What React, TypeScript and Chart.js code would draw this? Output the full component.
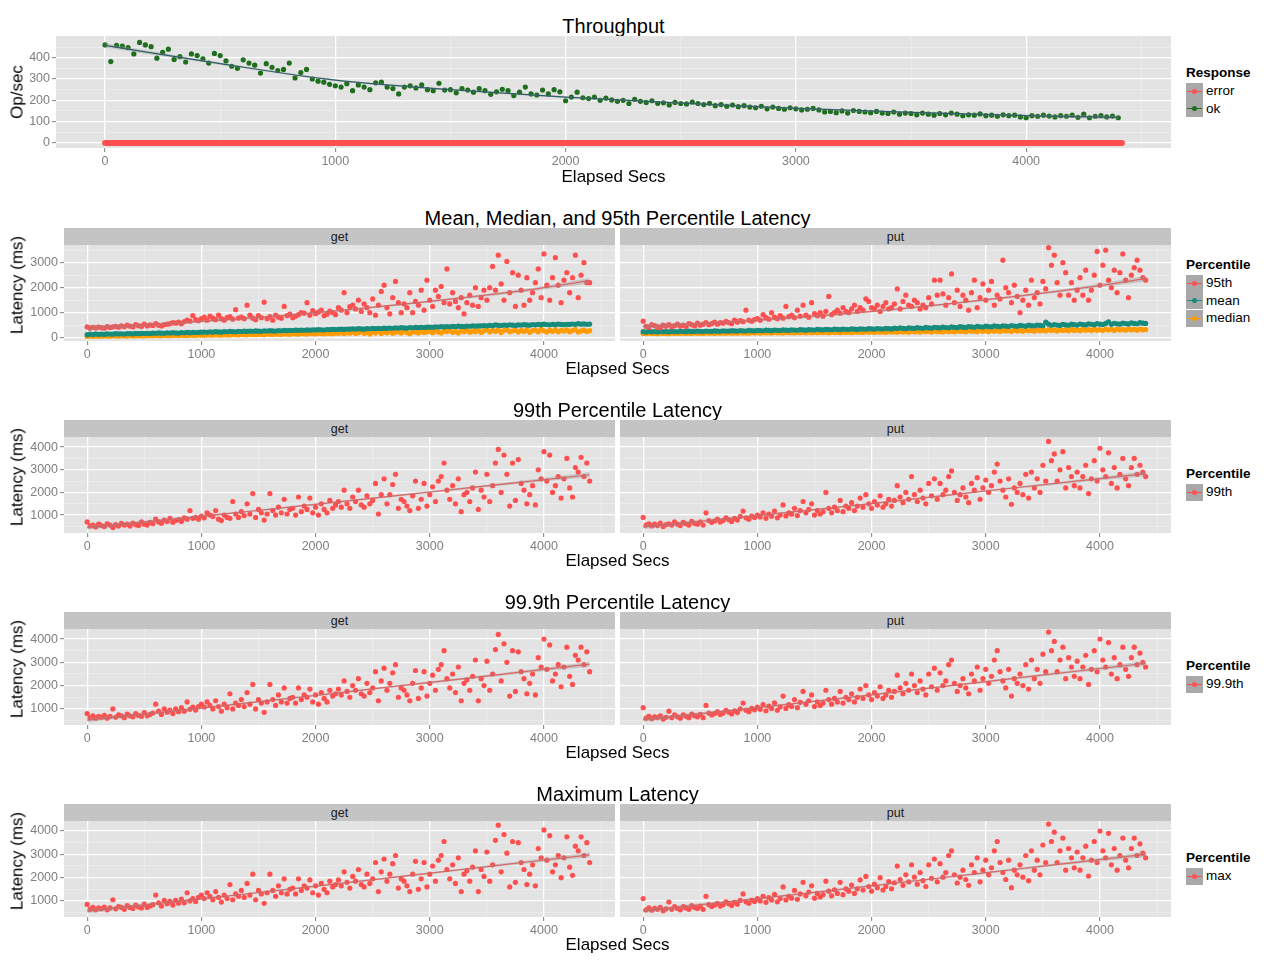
import React, { useEffect, useRef } from "react";
import { Chart, registerables } from "chart.js";
Chart.register(...registerables);

const FONT = '"Liberation Sans", Arial, Helvetica, sans-serif';
const PANEL_BG = "#E3E3E3";
const STRIP_BG = "#C4C4C4";
const GRID_MAJOR = "#FFFFFF";
const GRID_MINOR = "#F0F0F0";
const TICK_COLOR = "#7F7F7F";
const KEY_BG = "#A8A8A8";
const RED = "#FF4F4F";
const TEAL = "#178C7C";
const ORANGE = "#FF9A00";
const GREEN = "#1E6E1E";
const FIT_RED = "rgba(222,92,92,0.9)";
const FIT_DARK = "#2D5F66";
const BAND = "rgba(150,150,150,0.4)";

// elapsed seconds
const TIME = [
  0, 25, 50, 75, 100, 125, 150, 175, 200, 225, 250, 275, 300, 325, 350, 375, 400, 425, 450, 475, 500, 525, 550, 575,
  600, 625, 650, 675, 700, 725, 750, 775, 800, 825, 850, 875, 900, 925, 950, 975,
  1000, 1025, 1050, 1075, 1100, 1125, 1150, 1175, 1200, 1225, 1250, 1275, 1300, 1325, 1350, 1375,
  1400, 1425, 1450, 1475, 1500, 1525, 1550, 1575, 1600, 1625, 1650, 1675, 1700, 1725, 1750, 1775,
  1800, 1825, 1850, 1875, 1900, 1925, 1950, 1975, 2000, 2025, 2050, 2075, 2100, 2125, 2150, 2175,
  2200, 2225, 2250, 2275, 2300, 2325, 2350, 2375, 2400, 2425, 2450, 2475, 2500, 2525, 2550, 2575,
  2600, 2625, 2650, 2675, 2700, 2725, 2750, 2775, 2800, 2825, 2850, 2875, 2900, 2925, 2950, 2975,
  3000, 3025, 3050, 3075, 3100, 3125, 3150, 3175, 3200, 3225, 3250, 3275, 3300, 3325, 3350, 3375,
  3400, 3425, 3450, 3475, 3500, 3525, 3550, 3575, 3600, 3625, 3650, 3675, 3700, 3725, 3750, 3775,
  3800, 3825, 3850, 3875, 3900, 3925, 3950, 3975, 4000, 4025, 4050, 4075, 4100, 4125, 4150, 4175,
  4200, 4225, 4250, 4275, 4300, 4325, 4350, 4375, 4400,
];

const X_MAJOR = [0, 1000, 2000, 3000, 4000];
const X_MINOR = [500, 1500, 2500, 3500, 4500];
const X_LABELS = ["0", "1000", "2000", "3000", "4000"];

const OPS_Y_MAJOR = [0, 100, 200, 300, 400];
const OPS_Y_MINOR = [50, 150, 250, 350, 450];
const OPS_Y_LABELS = ["0", "100", "200", "300", "400"];
const LAT_Y_MAJOR_A = [0, 1000, 2000, 3000];
const LAT_Y_MINOR_A = [500, 1500, 2500, 3500];
const LAT_Y_LABELS_A = ["0", "1000", "2000", "3000"];
const LAT_Y_MAJOR_B = [1000, 2000, 3000, 4000];
const LAT_Y_MINOR_B = [500, 1500, 2500, 3500];
const LAT_Y_LABELS_B = ["1000", "2000", "3000", "4000"];

// Throughput (op/sec)
const OPS_OK = [
  460, 382, 458, 455, 448, 418, 472, 460, 452, 398, 425, 440, 392, 405, 380, 418, 410, 395, 375, 420, 410, 385, 360, 350,
  390, 375, 365, 328, 372, 355, 340, 345, 375, 305, 330, 345, 300, 290, 285, 275,
  268, 262, 278, 245, 272, 262, 250, 282, 285, 262, 255, 230, 262, 268, 258, 272,
  250, 245, 280, 248, 250, 235, 255, 248, 238, 255, 245, 228, 240, 252, 245, 222,
  238, 262, 230, 225, 248, 230, 250, 240, 198, 215, 238, 212, 208, 215, 200, 210,
  202, 195, 200, 185, 205, 195, 190, 198, 186, 188, 178, 190, 185, 183, 192, 185,
  180, 186, 175, 180, 172, 178, 170, 175, 168, 165, 172, 160, 168, 162, 158, 165,
  160, 155, 158, 162, 155, 145, 148, 142, 150, 140, 152, 148, 145, 142, 148, 140,
  138, 145, 135, 140, 138, 132, 140, 135, 130, 138, 132, 140, 135, 128, 132, 130,
  136, 128, 130, 125, 132, 128, 130, 122, 118, 128, 125, 130, 126, 122, 128, 125,
  130, 120, 135, 118, 125, 128, 122, 126, 118,
];
const OPS_ERROR_TIME = [0, 1000, 2000, 3000, 4000, 4416];
const OPS_ERROR = [0, 0, 0, 0, 0, 0];
const OPS_FIT_T = [0, 500, 1000, 1500, 2000, 2500, 3000, 3500, 4000, 4400];
const OPS_FIT = [458, 372, 295, 250, 215, 187, 162, 143, 128, 120];
const OPS_FIT_SE = [10, 5, 4, 4, 4, 4, 4, 4, 5, 8];

// Row 2: 95th / mean / median
const P95_GET = [
  430, 380, 410, 390, 420, 400, 380, 440, 410, 430, 450, 420, 470, 440, 500, 460, 430, 520, 480, 450, 540, 470, 510, 490,
  560, 500, 470, 520, 540, 560, 600, 580, 620, 560, 640, 700, 660, 880, 720, 680,
  760, 820, 700, 860, 780, 720, 900, 760, 700, 800, 840, 740, 1120, 780, 820, 760,
  1300, 900, 780, 720, 880, 800, 1420, 760, 840, 700, 900, 820, 780, 1250, 880, 940,
  800, 860, 920, 1000, 980, 1400, 900, 1080, 960, 1020, 1100, 880, 940, 1060, 1000, 920,
  1200, 1100, 1800, 1000, 1240, 1300, 1150, 1500, 1050, 1350, 1200, 1000, 1550, 900, 1300, 1850,
  2100, 1200, 950, 1600, 2250, 1400, 1000, 1350, 1200, 1800, 1000, 1450, 1300, 1900, 1100, 2300,
  1500, 1250, 1900, 1650, 2050, 1400, 2750, 1350, 1800, 1450, 1200, 1600, 950, 1400, 1700, 1300,
  2000, 1250, 1600, 1900, 1500, 2000, 2850, 1900, 3300, 2150, 1500, 3050, 1800, 2600, 1250, 2500,
  1900, 1300, 2400, 1500, 1800, 2200, 2750, 1600, 3350, 2100, 1500, 2400, 3200, 2100, 1400, 2300,
  2600, 1800, 2400, 3300, 1600, 2500, 3000, 2200, 2200,
];
const MEAN_GET = [
  120, 140, 125, 150, 135, 145, 130, 155, 148, 140, 160, 150, 158, 145, 165, 160, 150, 172, 162, 170, 168, 175, 165, 180,
  178, 190, 182, 175, 195, 188, 200, 192, 185, 205, 198, 210, 200, 215, 208, 212,
  220, 228, 215, 235, 225, 240, 230, 222, 245, 238, 250, 242, 235, 255, 248, 260,
  252, 265, 258, 270, 262, 255, 275, 268, 282, 272, 265, 285, 278, 290, 282, 295,
  288, 300, 292, 305, 298, 312, 302, 318, 310, 322, 315, 308, 328, 320, 332, 325,
  335, 342, 330, 348, 340, 355, 345, 360, 350, 342, 365, 358, 370, 362, 375, 368,
  380, 372, 388, 378, 395, 385, 400, 390, 382, 405, 398, 412, 402, 418, 408, 420,
  425, 415, 435, 428, 440, 432, 448, 438, 455, 445, 460, 450, 442, 465, 458, 470,
  462, 478, 470, 485, 475, 490, 480, 510, 495, 488, 505, 498, 515, 502, 492, 510,
  505, 520, 512, 500, 525, 515, 530, 520, 540, 528, 518, 535, 525, 545, 532, 522,
  538, 530, 548, 535, 560, 542, 550, 538, 545,
];
const MEDIAN_GET = [
  50, 65, 55, 70, 60, 58, 72, 65, 62, 75, 68, 60, 78, 70, 66, 80, 72, 68, 82, 75, 70, 85, 78, 74,
  88, 80, 76, 92, 85, 80, 95, 88, 84, 100, 92, 86, 105, 95, 90, 108,
  100, 95, 112, 105, 98, 118, 108, 102, 122, 112, 106, 128, 118, 110, 132, 122,
  115, 138, 125, 118, 142, 130, 122, 148, 135, 128, 152, 140, 132, 158, 145, 136,
  162, 150, 140, 168, 155, 145, 175, 160, 150, 180, 165, 155, 185, 170, 158, 190,
  175, 200, 160, 210, 182, 230, 168, 195, 240, 175, 205, 150, 220, 185, 250, 170,
  230, 195, 260, 175, 215, 240, 185, 270, 205, 160, 250, 220, 190, 275, 210, 240,
  260, 200, 285, 230, 190, 270, 245, 300, 215, 255, 190, 280, 235, 305, 220, 265,
  240, 300, 210, 275, 320, 230, 290, 250, 310, 205, 285, 330, 240, 275, 300, 225,
  290, 250, 320, 215, 280, 305, 240, 340, 270, 225, 300, 255, 320, 235, 290, 265,
  310, 240, 285, 330, 225, 270, 300, 250, 280,
];
const P95_PUT = [
  660, 450, 420, 520, 480, 430, 400, 500, 460, 520, 440, 480, 540, 460, 500, 450, 560, 520, 470, 580, 500, 540, 600, 520,
  560, 620, 540, 600, 580, 650, 600, 560, 700, 620, 680, 640, 1100, 700, 660, 720,
  760, 700, 920, 800, 740, 1000, 820, 760, 880, 780, 1250, 840, 900, 800, 1100, 860,
  1300, 900, 820, 1400, 960, 880, 1000, 860, 1050, 1650, 920, 1000, 1100, 980, 1200, 1050,
  1000, 1150, 1300, 1050, 1200, 1100, 1550, 1450, 1200, 1150, 1300, 1050, 1250, 1400, 1150, 1200,
  1350, 1950, 1150, 1450, 1700, 1300, 1250, 1500, 1400, 1150, 1300, 1200, 1600, 1350, 2300, 1700,
  2300, 1750, 1300, 1600, 2550, 1400, 1900, 1250, 1700, 1500, 1100, 1800, 2300, 1200, 1600, 2150,
  1500, 1900, 2250, 1300, 1700, 1550, 3100, 2000, 1800, 1400, 2100, 1650, 1000, 1500, 1900, 1300,
  2300, 1600, 1800, 1350, 2250, 1950, 3600, 2900, 3300, 2200, 1700, 3000, 2600, 1700, 2200, 1500,
  1900, 2400, 1700, 2700, 1500, 1900, 2500, 3450, 2100, 2900, 3500, 2300, 2000, 2700, 1800, 2600,
  3350, 2300, 1600, 2500, 2800, 3100, 2700, 2400, 2300,
];
const MEAN_PUT = [
  240, 225, 250, 235, 245, 230, 255, 240, 248, 232, 252, 245, 238, 258, 248, 242, 262, 250, 245, 265, 255, 248, 268, 258,
  252, 272, 262, 256, 276, 266, 260, 280, 270, 264, 285, 275, 268, 290, 280, 272,
  295, 285, 278, 300, 290, 282, 305, 295, 288, 310, 300, 292, 315, 305, 298, 320,
  310, 302, 325, 315, 308, 330, 320, 312, 335, 325, 318, 340, 330, 322, 345, 335,
  328, 350, 340, 332, 355, 345, 338, 362, 350, 342, 368, 356, 348, 375, 362, 352,
  380, 368, 390, 375, 362, 395, 382, 370, 402, 388, 376, 410, 395, 382, 418, 400,
  390, 425, 408, 395, 432, 415, 402, 440, 422, 410, 448, 430, 418, 455, 438, 425,
  462, 445, 432, 470, 452, 440, 478, 460, 448, 485, 468, 455, 492, 475, 462, 500,
  482, 470, 508, 490, 478, 620, 540, 498, 525, 505, 490, 532, 512, 498, 540, 520,
  505, 548, 528, 512, 555, 535, 520, 562, 542, 528, 570, 630, 535, 578, 558, 542,
  585, 565, 550, 592, 572, 558, 600, 580, 570,
];
const MEDIAN_PUT = [
  170, 160, 178, 165, 172, 158, 180, 168, 175, 162, 182, 170, 178, 165, 185, 172, 180, 168, 188, 175, 182, 170, 190, 178,
  185, 172, 192, 180, 188, 175, 195, 182, 190, 178, 198, 185, 192, 180, 200, 188,
  195, 182, 205, 190, 198, 185, 210, 195, 202, 188, 212, 198, 205, 192, 215, 200,
  208, 195, 218, 202, 210, 198, 222, 205, 215, 200, 225, 210, 218, 202, 228, 212,
  220, 205, 232, 215, 225, 208, 238, 218, 228, 212, 240, 222, 232, 215, 245, 225,
  235, 218, 250, 228, 240, 215, 258, 232, 245, 220, 262, 238, 250, 225, 268, 240,
  255, 230, 275, 245, 260, 235, 280, 250, 265, 238, 285, 255, 270, 242, 290, 258,
  275, 245, 295, 262, 280, 250, 300, 268, 285, 255, 305, 272, 290, 258, 310, 275,
  295, 262, 315, 280, 300, 268, 320, 285, 305, 272, 325, 290, 310, 275, 330, 292,
  315, 280, 335, 298, 320, 285, 340, 302, 325, 288, 345, 305, 330, 292, 348, 310,
  335, 298, 350, 312, 338, 300, 345, 315, 325,
];

// Row 3: 99th
const P99_GET = [
  700, 520, 560, 480, 600, 540, 500, 620, 560, 450, 580, 520, 640, 560, 600, 520, 650, 580, 540, 700, 600, 560, 680, 620,
  820, 700, 640, 780, 720, 860, 680, 760, 800, 720, 880, 820, 1200, 860, 900, 820,
  960, 880, 1100, 1000, 940, 1200, 820, 760, 1000, 900, 860, 1600, 1050, 900, 1150, 980,
  1500, 1050, 1950, 900, 1250, 1100, 780, 1050, 1950, 1200, 1000, 1350, 1100, 1700, 1050, 1250,
  1300, 1000, 1800, 1150, 1400, 1250, 1750, 1100, 1350, 1000, 1500, 1250, 1100, 1650, 1300, 1450,
  1600, 1350, 2100, 1500, 1300, 1800, 1600, 2100, 1450, 1350, 1850, 1500, 1650, 2400, 1050, 1900,
  2600, 1500, 1900, 2350, 2800, 1300, 1700, 1600, 1400, 1200, 1850, 2500, 1300, 1700, 2400, 1400,
  1900, 2250, 1600, 2500, 2700, 3300, 2100, 1700, 2300, 1500, 2600, 1150, 1900, 2000, 1600, 2200,
  2900, 1250, 2100, 1800, 2800, 1600, 2300, 3300, 3900, 2000, 3650, 2800, 1400, 3300, 1650, 3450,
  2400, 2100, 1500, 1900, 2300, 1450, 3000, 2600, 3800, 2500, 3650, 2000, 2300, 2700, 1750, 2600,
  3500, 2200, 1800, 3100, 2900, 3550, 2700, 3300, 2500,
];
const P99_PUT = [
  900, 560, 620, 520, 600, 540, 650, 500, 580, 620, 560, 700, 600, 540, 680, 620, 560, 720, 640, 600, 700, 560, 1100, 760,
  680, 740, 820, 700, 760, 880, 800, 720, 860, 780, 940, 1180, 880, 820, 960, 900,
  1000, 920, 1100, 860, 1050, 950, 1180, 880, 1000, 1450, 960, 1100, 1040, 1300, 980, 1200,
  1600, 1100, 1250, 1500, 1000, 1200, 1050, 1150, 2000, 1300, 1100, 1350, 1200, 1650, 1150, 1400,
  1300, 1550, 1200, 1400, 1750, 1350, 1900, 1500, 1300, 1600, 1450, 1850, 1350, 1500, 1700, 1400,
  1650, 2300, 1800, 1550, 2000, 1700, 2700, 1900, 1600, 2100, 1750, 1500, 2400, 1850, 2600, 1700,
  2400, 1900, 2100, 2700, 2950, 2000, 1650, 1900, 2200, 1800, 1550, 2400, 2100, 2650, 1700, 2200,
  2550, 2000, 2300, 2900, 3250, 2500, 2100, 1800, 2600, 1480, 2200, 2000, 2400, 1900, 2800, 1750,
  2900, 2200, 2600, 2000, 3200, 2500, 4250, 3400, 3700, 2500, 3000, 3800, 2200, 3100, 2700, 2300,
  2900, 2200, 2700, 3200, 1950, 2600, 3400, 2500, 3950, 3000, 2700, 3750, 2400, 3100, 2200, 2800,
  3500, 2600, 2300, 3100, 3500, 2800, 3200, 2900, 2700,
];

// Row 4: 99.9th
const P999_GET = [
  800, 620, 700, 600, 680, 640, 720, 600, 680, 1000, 640, 740, 700, 620, 780, 700, 660, 800, 720, 680, 840, 700, 760, 820,
  1200, 900, 760, 1000, 860, 950, 800, 1000, 880, 1050, 900, 1300, 980, 1080, 950, 1100,
  1200, 1080, 1300, 1150, 1000, 1350, 1100, 900, 1200, 1050, 1650, 1000, 1250, 1150, 1400, 1100,
  1700, 1200, 2050, 1000, 1400, 1250, 850, 1300, 2050, 1400, 1150, 1600, 1300, 1900, 1250, 1450,
  1500, 1250, 1900, 1400, 1600, 1500, 1850, 1300, 1600, 1200, 1700, 1450, 1300, 1800, 1550, 1650,
  1850, 1600, 2200, 1750, 1500, 2000, 1800, 2300, 1650, 1550, 2100, 1700, 1900, 2600, 1350, 2200,
  2750, 1800, 2100, 2550, 2900, 1500, 1900, 1800, 1600, 1350, 2100, 2650, 1450, 1900, 2600, 1550,
  2100, 2450, 1800, 2700, 2900, 3500, 2300, 1900, 2500, 1700, 2800, 1350, 2100, 2250, 1800, 2400,
  3100, 1350, 2300, 2000, 3050, 1800, 2500, 3550, 4200, 2200, 3800, 3000, 1550, 3500, 1750, 3450,
  2600, 2300, 1650, 2100, 2500, 1600, 3200, 2800, 4000, 2700, 3750, 2200, 2500, 2900, 1950, 2800,
  3650, 2400, 2050, 3300, 3100, 3650, 2900, 3450, 2600,
];
const P999_PUT = [
  1050, 600, 680, 580, 660, 620, 700, 560, 640, 900, 620, 740, 660, 600, 740, 680, 620, 780, 700, 660, 760, 620, 1150, 820,
  740, 800, 880, 760, 820, 940, 860, 780, 920, 840, 1000, 1250, 940, 880, 1020, 960,
  1080, 980, 1180, 920, 1120, 1020, 1260, 940, 1080, 1550, 1020, 1180, 1100, 1400, 1050, 1280,
  1750, 1200, 1350, 1600, 1100, 1300, 1150, 1250, 1800, 1400, 1200, 1450, 1300, 1750, 1250, 1500,
  1400, 1650, 1300, 1500, 1850, 1450, 2000, 1600, 1400, 1700, 1550, 1950, 1450, 1600, 1800, 1500,
  1750, 2450, 1900, 1650, 2100, 1800, 2500, 2000, 1700, 2200, 1850, 1600, 2500, 1950, 2750, 1800,
  2550, 2000, 2200, 2900, 3100, 2100, 1750, 2000, 2300, 1900, 1650, 2500, 2200, 2800, 1800, 2300,
  2700, 2100, 2400, 3100, 3500, 2600, 2200, 1900, 2700, 1550, 2300, 2100, 2500, 2000, 2900, 1850,
  3100, 2300, 2700, 2100, 3350, 2600, 4300, 3500, 3900, 2600, 3100, 3650, 2300, 3200, 2800, 2400,
  3050, 2300, 2800, 3300, 2050, 2700, 3500, 2600, 4000, 3100, 2800, 3850, 2500, 3200, 2300, 2900,
  3650, 2700, 2400, 3200, 3650, 2900, 3400, 3000, 2800,
];

// Row 5: max
const MAX_GET = [
  850, 640, 720, 620, 700, 660, 740, 620, 700, 1050, 660, 760, 720, 640, 800, 720, 680, 820, 740, 700, 860, 720, 780, 840,
  1250, 920, 780, 1020, 880, 980, 820, 1020, 900, 1080, 920, 1350, 1000, 1100, 980, 1150,
  1250, 1100, 1350, 1200, 1050, 1400, 1150, 950, 1250, 1100, 1700, 1050, 1300, 1200, 1450, 1150,
  1750, 1250, 2150, 1050, 1450, 1300, 900, 1350, 2150, 1450, 1200, 1650, 1350, 1950, 1300, 1500,
  1550, 1300, 1950, 1450, 1650, 1550, 1900, 1350, 1650, 1250, 1750, 1500, 1350, 1850, 1600, 1700,
  1900, 1650, 2250, 1800, 1550, 2050, 1850, 2350, 1700, 1600, 2150, 1750, 1950, 2650, 1400, 2250,
  2800, 1850, 2150, 2600, 2950, 1550, 1950, 1850, 1650, 1400, 2150, 2700, 1500, 1950, 2650, 1600,
  2150, 2500, 1850, 2750, 2950, 3550, 2350, 1950, 2550, 1750, 2850, 1400, 2150, 2300, 1850, 2450,
  3150, 1400, 2350, 2050, 3100, 1850, 2550, 3600, 4250, 2250, 3850, 3050, 1600, 3550, 1800, 3500,
  2650, 2350, 1700, 2150, 2550, 1650, 3250, 2850, 4050, 2750, 3800, 2250, 2550, 2950, 2000, 2850,
  3750, 2450, 2100, 3350, 3150, 3750, 2950, 3500, 2650,
];
const MAX_PUT = [
  1100, 620, 700, 600, 680, 640, 720, 580, 660, 950, 640, 760, 680, 620, 760, 700, 640, 800, 720, 680, 780, 640, 1200, 840,
  760, 820, 900, 780, 840, 960, 880, 800, 940, 860, 1020, 1300, 960, 900, 1040, 980,
  1100, 1000, 1200, 940, 1140, 1040, 1280, 960, 1100, 1600, 1040, 1200, 1120, 1450, 1070, 1300,
  1800, 1220, 1380, 1650, 1120, 1320, 1170, 1270, 1850, 1420, 1220, 1480, 1320, 1800, 1270, 1520,
  1420, 1680, 1320, 1520, 1900, 1470, 2050, 1620, 1420, 1720, 1570, 2000, 1470, 1620, 1830, 1520,
  1780, 2500, 1920, 1670, 2120, 1820, 2550, 2020, 1720, 2220, 1870, 1620, 2550, 1970, 2800, 1820,
  2600, 2020, 2220, 2950, 3150, 2120, 1770, 2020, 2320, 1920, 1670, 2550, 2220, 2850, 1820, 2320,
  2750, 2120, 2420, 3150, 3550, 2650, 2220, 1920, 2750, 1570, 2320, 2120, 2550, 2020, 2950, 1870,
  3150, 2320, 2750, 2120, 3400, 2650, 4300, 3550, 3950, 2650, 3150, 3700, 2320, 3250, 2850, 2420,
  3100, 2320, 2850, 3350, 2070, 2750, 3550, 2650, 4000, 3150, 2850, 3900, 2550, 3250, 2320, 2950,
  3700, 2750, 2420, 3250, 3700, 2950, 3450, 3050, 2850,
];

// smoothed fits
const FIT_T = [0, 550, 1100, 1650, 2200, 2750, 3300, 3850, 4400];
const FIT_SE = [90, 60, 45, 40, 38, 40, 48, 65, 110];
const P95_GET_FIT = [400, 520, 680, 860, 1080, 1330, 1600, 1900, 2280];
const P95_PUT_FIT = [460, 570, 730, 910, 1130, 1390, 1670, 1990, 2360];
const P99_GET_FIT = [450, 720, 1000, 1290, 1580, 1880, 2180, 2480, 2780];
const P99_PUT_FIT = [480, 750, 1030, 1320, 1620, 1930, 2230, 2530, 2830];
const P999_GET_FIT = [520, 800, 1090, 1390, 1690, 2000, 2300, 2610, 2920];
const P999_PUT_FIT = [540, 820, 1110, 1410, 1720, 2030, 2340, 2650, 2960];
const MAX_GET_FIT = [560, 850, 1140, 1440, 1740, 2050, 2360, 2670, 2980];
const MAX_PUT_FIT = [570, 860, 1150, 1450, 1760, 2070, 2380, 2690, 3000];

const OPS_X_RANGE = [-213, 4629];
const LAT_X_RANGE = [-203, 4622];

// ---------- dataset builders ----------
const pts = (xs: number[], ys: number[], color: string) => ({
  type: "scatter",
  data: xs.map((x, i) => ({ x, y: ys[i] })),
  pointRadius: 2.6,
  pointBackgroundColor: color,
  pointBorderColor: color,
  pointBorderWidth: 0,
  showLine: false,
});
const fitLine = (xs: number[], ys: number[], color: string) => ({
  type: "line",
  data: xs.map((x, i) => ({ x, y: ys[i] })),
  borderColor: color,
  borderWidth: 1.2,
  pointRadius: 0,
  fill: false,
  cubicInterpolationMode: "monotone",
});
const band = (xs: number[], ys: number[], se: number[]) => [
  {
    type: "line",
    data: xs.map((x, i) => ({ x, y: ys[i] - se[i] })),
    borderWidth: 0,
    borderColor: "rgba(0,0,0,0)",
    pointRadius: 0,
    fill: false,
    cubicInterpolationMode: "monotone",
  },
  {
    type: "line",
    data: xs.map((x, i) => ({ x, y: ys[i] + se[i] })),
    borderWidth: 0,
    borderColor: "rgba(0,0,0,0)",
    pointRadius: 0,
    fill: "-1",
    backgroundColor: BAND,
    cubicInterpolationMode: "monotone",
  },
];

const bgPlugin = {
  id: "panelBg",
  beforeDraw(chart: any) {
    const { ctx, chartArea: a } = chart;
    ctx.save();
    ctx.fillStyle = PANEL_BG;
    ctx.fillRect(a.left, a.top, a.right - a.left, a.bottom - a.top);
    ctx.restore();
  },
};

type PlotProps = {
  px: number;
  py: number;
  pw: number;
  ph: number;
  xr: number[];
  yr: number[];
  yMaj: number[];
  yMin: number[];
  yLabels: string[];
  showY: boolean;
  build: () => any[];
};

const YW = 40;
const XH = 24;

function Plot(p: PlotProps) {
  const ref = useRef<HTMLCanvasElement | null>(null);
  const yw = p.showY ? YW : 0;
  useEffect(() => {
    const xTicks = [...X_MAJOR, ...X_MINOR].sort((a, b) => a - b);
    const yTicks = [...p.yMaj, ...p.yMin].sort((a, b) => a - b);
    const xMaj = (c: any) => X_MAJOR.includes(c.tick?.value);
    const yMaj = (c: any) => p.yMaj.includes(c.tick?.value);
    const chart = new Chart(ref.current as HTMLCanvasElement, {
      type: "scatter",
      data: { datasets: p.build() as any },
      options: {
        animation: false,
        responsive: false,
        maintainAspectRatio: false,
        devicePixelRatio: 1,
        events: [],
        layout: { padding: 0, autoPadding: false },
        plugins: { legend: { display: false }, tooltip: { enabled: false } },
        scales: {
          x: {
            type: "linear",
            min: p.xr[0],
            max: p.xr[1],
            afterBuildTicks: (s: any) => {
              s.ticks = xTicks.map((v) => ({ value: v }));
            },
            afterFit: (s: any) => {
              s.height = XH;
              s.paddingLeft = 0;
              s.paddingRight = 0;
            },
            border: { display: false },
            grid: {
              color: (c: any) => (xMaj(c) ? GRID_MAJOR : GRID_MINOR),
              lineWidth: (c: any) => (xMaj(c) ? 1.3 : 0.6),
              drawTicks: true,
              tickLength: 4,
              tickWidth: 1,
              tickColor: (c: any) => (xMaj(c) ? TICK_COLOR : "rgba(0,0,0,0)"),
            },
            ticks: {
              autoSkip: false,
              maxRotation: 0,
              minRotation: 0,
              padding: 2,
              color: TICK_COLOR,
              font: { family: FONT, size: 12.5 },
              callback: (v: any) => {
                const i = X_MAJOR.indexOf(Number(v));
                return i >= 0 ? X_LABELS[i] : "";
              },
            },
          } as any,
          y: {
            type: "linear",
            min: p.yr[0],
            max: p.yr[1],
            afterBuildTicks: (s: any) => {
              s.ticks = yTicks.map((v) => ({ value: v }));
            },
            afterFit: (s: any) => {
              s.width = yw;
              s.paddingTop = 0;
              s.paddingBottom = 0;
            },
            border: { display: false },
            grid: {
              color: (c: any) => (yMaj(c) ? GRID_MAJOR : GRID_MINOR),
              lineWidth: (c: any) => (yMaj(c) ? 1.3 : 0.6),
              drawTicks: p.showY,
              tickLength: 4,
              tickWidth: 1,
              tickColor: (c: any) => (yMaj(c) ? TICK_COLOR : "rgba(0,0,0,0)"),
            },
            ticks: {
              display: p.showY,
              autoSkip: false,
              padding: 2,
              color: TICK_COLOR,
              font: { family: FONT, size: 12.5 },
              callback: (v: any) => {
                const i = p.yMaj.indexOf(Number(v));
                return i >= 0 ? p.yLabels[i] : "";
              },
            },
          } as any,
        },
      },
      plugins: [bgPlugin],
    });
    return () => chart.destroy();
  }, []);
  return (
    <canvas
      ref={ref}
      width={p.pw + yw}
      height={p.ph + XH}
      style={{
        position: "absolute",
        left: p.px - yw,
        top: p.py,
        width: p.pw + yw,
        height: p.ph + XH,
      }}
    />
  );
}

function Txt(props: {
  x: number;
  y: number;
  size: number;
  bold?: boolean;
  rotate?: boolean;
  left?: boolean;
  color?: string;
  children: React.ReactNode;
}) {
  const tr = props.left ? "translate(0,-50%)" : "translate(-50%,-50%)";
  return (
    <div
      style={{
        position: "absolute",
        left: props.x,
        top: props.y,
        transform: tr + (props.rotate ? " rotate(-90deg)" : ""),
        fontFamily: FONT,
        fontSize: props.size,
        fontWeight: props.bold ? "bold" : "normal",
        color: props.color || "#000",
        whiteSpace: "nowrap",
        lineHeight: 1,
      }}
    >
      {props.children}
    </div>
  );
}

function Legend(props: { x: number; ty: number; title: string; items: { label: string; color: string; y: number }[] }) {
  return (
    <>
      <Txt x={props.x} y={props.ty} size={13.5} bold left>
        {props.title}
      </Txt>
      {props.items.map((it) => (
        <React.Fragment key={it.label}>
          <div
            style={{
              position: "absolute",
              left: props.x,
              top: it.y - 8.5,
              width: 17,
              height: 17,
              background: KEY_BG,
            }}
          >
            <div style={{ position: "absolute", left: 1, right: 1, top: 8, height: 1.3, background: it.color }} />
            <div
              style={{
                position: "absolute",
                left: 6,
                top: 6,
                width: 5.4,
                height: 5.4,
                borderRadius: "50%",
                background: it.color,
              }}
            />
          </div>
          <Txt x={props.x + 20} y={it.y} size={13.5} left>
            {it.label}
          </Txt>
        </React.Fragment>
      ))}
    </>
  );
}

type Row = {
  title: string;
  yr: number[];
  yMaj: number[];
  yMin: number[];
  yLabels: string[];
  legend: { label: string; color: string }[];
  get: () => any[];
  put: () => any[];
};

const ROWS: Row[] = [
  {
    title: "Mean, Median, and 95th Percentile Latency",
    yr: [-132, 3708],
    yMaj: LAT_Y_MAJOR_A,
    yMin: LAT_Y_MINOR_A,
    yLabels: LAT_Y_LABELS_A,
    legend: [
      { label: "95th", color: RED },
      { label: "mean", color: TEAL },
      { label: "median", color: ORANGE },
    ],
    get: () => [
      fitLine(FIT_T, P95_GET_FIT, FIT_RED),
      ...band(FIT_T, P95_GET_FIT, FIT_SE),
      pts(TIME, P95_GET, RED),
      pts(TIME, MEAN_GET, TEAL),
      pts(TIME, MEDIAN_GET, ORANGE),
    ],
    put: () => [
      fitLine(FIT_T, P95_PUT_FIT, FIT_RED),
      ...band(FIT_T, P95_PUT_FIT, FIT_SE),
      pts(TIME, P95_PUT, RED),
      pts(TIME, MEAN_PUT, TEAL),
      pts(TIME, MEDIAN_PUT, ORANGE),
    ],
  },
  {
    title: "99th Percentile Latency",
    yr: [211, 4446],
    yMaj: LAT_Y_MAJOR_B,
    yMin: LAT_Y_MINOR_B,
    yLabels: LAT_Y_LABELS_B,
    legend: [{ label: "99th", color: RED }],
    get: () => [fitLine(FIT_T, P99_GET_FIT, FIT_RED), ...band(FIT_T, P99_GET_FIT, FIT_SE), pts(TIME, P99_GET, RED)],
    put: () => [fitLine(FIT_T, P99_PUT_FIT, FIT_RED), ...band(FIT_T, P99_PUT_FIT, FIT_SE), pts(TIME, P99_PUT, RED)],
  },
  {
    title: "99.9th Percentile Latency",
    yr: [307, 4433],
    yMaj: LAT_Y_MAJOR_B,
    yMin: LAT_Y_MINOR_B,
    yLabels: LAT_Y_LABELS_B,
    legend: [{ label: "99.9th", color: RED }],
    get: () => [fitLine(FIT_T, P999_GET_FIT, FIT_RED), ...band(FIT_T, P999_GET_FIT, FIT_SE), pts(TIME, P999_GET, RED)],
    put: () => [fitLine(FIT_T, P999_PUT_FIT, FIT_RED), ...band(FIT_T, P999_PUT_FIT, FIT_SE), pts(TIME, P999_PUT, RED)],
  },
  {
    title: "Maximum Latency",
    yr: [310, 4431],
    yMaj: LAT_Y_MAJOR_B,
    yMin: LAT_Y_MINOR_B,
    yLabels: LAT_Y_LABELS_B,
    legend: [{ label: "max", color: RED }],
    get: () => [fitLine(FIT_T, MAX_GET_FIT, FIT_RED), ...band(FIT_T, MAX_GET_FIT, FIT_SE), pts(TIME, MAX_GET, RED)],
    put: () => [fitLine(FIT_T, MAX_PUT_FIT, FIT_RED), ...band(FIT_T, MAX_PUT_FIT, FIT_SE), pts(TIME, MAX_PUT, RED)],
  },
];

const FACETS = [
  { label: "get", px: 64, pw: 551 },
  { label: "put", px: 620, pw: 551 },
];

export default function App() {
  const LEG_X = 1186;
  return (
    <div
      style={{
        position: "absolute",
        left: 0,
        top: 0,
        width: 1280,
        height: 960,
        background: "#FFFFFF",
        overflow: "hidden",
      }}
    >
      {/* Throughput */}
      <Txt x={613.5} y={26} size={20}>
        Throughput
      </Txt>
      <Plot
        px={56}
        py={36}
        pw={1115}
        ph={112}
        xr={OPS_X_RANGE}
        yr={[-24, 502]}
        yMaj={OPS_Y_MAJOR}
        yMin={OPS_Y_MINOR}
        yLabels={OPS_Y_LABELS}
        showY
        build={() => [
          fitLine(OPS_FIT_T, OPS_FIT, FIT_DARK),
          ...band(OPS_FIT_T, OPS_FIT, OPS_FIT_SE),
          {
            type: "line",
            data: OPS_ERROR_TIME.map((x, i) => ({ x, y: OPS_ERROR[i] })),
            borderColor: RED,
            borderWidth: 6,
            borderCapStyle: "round",
            pointRadius: 0,
            fill: false,
          },
          pts(TIME, OPS_OK, GREEN),
        ]}
      />
      <Txt x={17} y={92} size={17} rotate>
        Op/sec
      </Txt>
      <Txt x={613.5} y={176} size={17}>
        Elapsed Secs
      </Txt>
      <Legend
        x={LEG_X}
        ty={73}
        title="Response"
        items={[
          { label: "error", color: RED, y: 91 },
          { label: "ok", color: GREEN, y: 108.5 },
        ]}
      />

      {ROWS.map((r, i) => {
        const base = 192 * i;
        const stripTop = 228 + base;
        const panelTop = stripTop + 17;
        const legTitleY = i === 0 ? 265 : 474 + 192 * (i - 1);
        return (
          <React.Fragment key={r.title}>
            <Txt x={617.5} y={218 + base} size={20}>
              {r.title}
            </Txt>
            {FACETS.map((f, j) => (
              <React.Fragment key={f.label}>
                <div
                  style={{
                    position: "absolute",
                    left: f.px,
                    top: stripTop,
                    width: f.pw,
                    height: 17,
                    background: STRIP_BG,
                  }}
                />
                <Txt x={f.px + f.pw / 2} y={stripTop + 9} size={12.5} color="#1A1A1A">
                  {f.label}
                </Txt>
                <Plot
                  px={f.px}
                  py={panelTop}
                  pw={f.pw}
                  ph={96}
                  xr={LAT_X_RANGE}
                  yr={r.yr}
                  yMaj={r.yMaj}
                  yMin={r.yMin}
                  yLabels={r.yLabels}
                  showY={j === 0}
                  build={j === 0 ? r.get : r.put}
                />
              </React.Fragment>
            ))}
            <Txt x={17} y={285 + base} size={17} rotate>
              Latency (ms)
            </Txt>
            <Txt x={617.5} y={368 + base} size={17}>
              Elapsed Secs
            </Txt>
            <Legend
              x={LEG_X}
              ty={legTitleY}
              title="Percentile"
              items={r.legend.map((l, k) => ({ ...l, y: legTitleY + 18 + k * 17.5 }))}
            />
          </React.Fragment>
        );
      })}
    </div>
  );
}
